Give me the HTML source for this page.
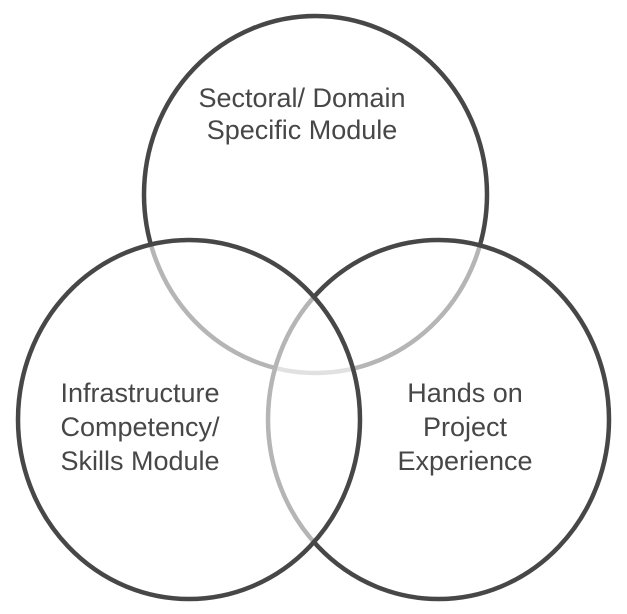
<!DOCTYPE html>
<html><head><meta charset="utf-8"><style>
html,body{margin:0;padding:0;background:#fff;}
svg{display:block;}
text{font-family:"Liberation Sans",sans-serif;font-size:27px;fill:#474747;text-anchor:middle;}
</style></head><body>
<svg width="627" height="614" viewBox="0 0 627 614" xmlns="http://www.w3.org/2000/svg">
<ellipse cx="315.5" cy="194.5" rx="171.5" ry="178.5" fill="#fff" fill-opacity="0.6" stroke="#474747" stroke-width="4.5"/>
<ellipse cx="438.5" cy="419.5" rx="170.5" ry="179.5" fill="#fff" fill-opacity="0.6" stroke="#474747" stroke-width="4.5"/>
<ellipse cx="189" cy="419.5" rx="171" ry="179.5" fill="#fff" fill-opacity="0.6" stroke="#474747" stroke-width="4.5"/>
<text x="302" y="107">Sectoral/ Domain</text>
<text x="302" y="139">Specific Module</text>
<text x="140" y="402">Infrastructure</text>
<text x="140" y="436">Competency/</text>
<text x="140" y="470">Skills Module</text>
<text x="465" y="402">Hands on</text>
<text x="465" y="436">Project</text>
<text x="465" y="470">Experience</text>
</svg>
</body></html>
